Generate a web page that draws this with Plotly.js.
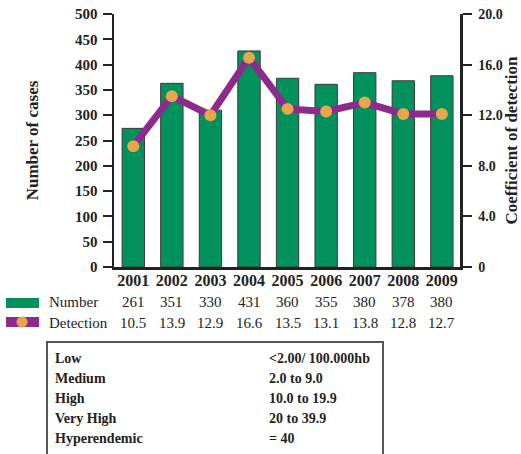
<!DOCTYPE html>
<html><head><meta charset="utf-8">
<script src="https://cdn.plot.ly/plotly-3.0.1.min.js"></script>
<style>html,body{margin:0;padding:0;background:#fff;}#chart{width:521px;height:454px;}</style>
</head><body><div id="chart"></div>
<script>
const years = ['2001','2002','2003','2004','2005','2006','2007','2008','2009'];
const barValues = [274, 363, 310, 427, 373, 361, 384, 368, 378];
const detectionValues = [9.55, 13.5, 12.0, 16.55, 12.5, 12.3, 13.0, 12.1, 12.1];
const numberLabels = ['261','351','330','431','360','355','380','378','380'];
const detectionLabels = ['10.5','13.9','12.9','16.6','13.5','13.1','13.8','12.8','12.7'];
const rightTickVals = [0, 4, 8, 12, 16, 20];
const rightTickText = ['0','4.0','8.0','12.0','16.0','20.0'];
const levelNames = ['Low','Medium','High','Very High','Hyperendemic'];
const levelRanges = ['<2.00/ 100.000hb','2.0 to 9.0','10.0 to 19.9','20 to 39.9','= 40'];

const L = 114, R = 460, T = 14, B = 267;
const px = x => (x - L) / (R - L);
const py = y => (B - y) / (B - T);
const SERIF = 'Liberation Serif, Times New Roman, serif';

const green = '#00915c', purple = '#8c2a8e', orange = '#e8a64c';

const traces = [
  {type:'bar', x: years, y: barValues, width: 0.58, name:'Number',
   marker:{color: green, line:{color:'#3a3a3a', width:1}}, hoverinfo:'skip'},
  {type:'scatter', mode:'lines+markers', x: years, y: detectionValues, yaxis:'y2', name:'Detection',
   line:{color: purple, width: 7}, marker:{color: orange, size: 12}, hoverinfo:'skip'}
];

const annotations = [];
years.forEach((yr, i) => {
  annotations.push({x: i, xref:'x', y: py(302), yref:'paper', text: numberLabels[i], showarrow:false,
    font:{family: SERIF, size: 15, color:'#222'}, xanchor:'center', yanchor:'middle'});
  annotations.push({x: i, xref:'x', y: py(323), yref:'paper', text: detectionLabels[i], showarrow:false,
    font:{family: SERIF, size: 15, color:'#222'}, xanchor:'center', yanchor:'middle'});
});
annotations.push({x: px(47), xref:'paper', y: py(302), yref:'paper', text:'Number', showarrow:false,
  font:{family: SERIF, size: 15, color:'#222'}, xanchor:'left', yanchor:'middle'});
annotations.push({x: px(47), xref:'paper', y: py(323), yref:'paper', text:'Detection', showarrow:false,
  font:{family: SERIF, size: 15, color:'#222'}, xanchor:'left', yanchor:'middle'});
const rowY = [358, 378, 398, 418, 438];
levelNames.forEach((n, i) => {
  annotations.push({x: px(53), xref:'paper', y: py(rowY[i]), yref:'paper', text:'<b>'+n+'</b>', showarrow:false,
    font:{family: SERIF, size: 14, color:'#222'}, xanchor:'left', yanchor:'middle'});
  annotations.push({x: px(267), xref:'paper', y: py(rowY[i]), yref:'paper', text:'<b>'+levelRanges[i]+'</b>', showarrow:false,
    font:{family: SERIF, size: 14, color:'#222'}, xanchor:'left', yanchor:'middle'});
});

const shapes = [
  {type:'rect', xref:'paper', yref:'paper', x0: px(6), x1: px(39), y0: py(308), y1: py(298), fillcolor: green, line:{width:0}},
  {type:'rect', xref:'paper', yref:'paper', x0: px(6), x1: px(39), y0: py(327), y1: py(317), fillcolor: purple, line:{width:0}},
  {type:'circle', xref:'paper', yref:'paper', x0: px(16.5), x1: px(27.5), y0: py(327.5), y1: py(316.5), fillcolor: orange, line:{width:0}},
  {type:'rect', xref:'paper', yref:'paper', x0: px(47), x1: px(383), y0: py(470), y1: py(342), fillcolor:'rgba(0,0,0,0)', line:{color:'#555', width:2}}
];

const layout = {
  width: 521, height: 454,
  margin:{l: L, r: 521 - R, t: T, b: 454 - B, pad: 0},
  paper_bgcolor:'#fff', plot_bgcolor:'#fff',
  showlegend: false,
  bargap: 0.42,
  xaxis:{type:'category', range:[-0.5, 8.47], showline:true, linecolor:'#222', linewidth:2.5,
    ticks:'', showgrid:false, zeroline:false, fixedrange:true,
    tickfont:{family: SERIF, size: 16, color:'#222', weight:'bold'}, ticklabelstandoff: -3},
  yaxis:{range:[0, 500], dtick: 50, showline:true, linecolor:'#222', linewidth:2.5,
    ticks:'outside', ticklen: 9, tickwidth: 2, tickcolor:'#222', showgrid:false, zeroline:false,
    tickfont:{family: SERIF, size: 15, color:'#222', weight:'bold'}, ticklabelstandoff: 2,
    title:{text:'<b>Number of cases</b>', font:{family: SERIF, size: 17, color:'#222'}, standoff: 32}},
  yaxis2:{range:[0, 20], overlaying:'y', side:'right', tickvals: rightTickVals, ticktext: rightTickText,
    showline:true, linecolor:'#222', linewidth:2.5, ticks:'outside', ticklen: 9, tickwidth: 2, tickcolor:'#222',
    showgrid:false, zeroline:false,
    tickfont:{family: SERIF, size: 14, color:'#222', weight:'bold'}, ticklabelstandoff: 4,
    title:{text:'<b>Coefficient of detection</b>', font:{family: SERIF, size: 17, color:'#222'}, standoff: 3}},
  annotations, shapes
};

Plotly.newPlot('chart', traces, layout, {displayModeBar:false, staticPlot:true});
</script></body></html>
